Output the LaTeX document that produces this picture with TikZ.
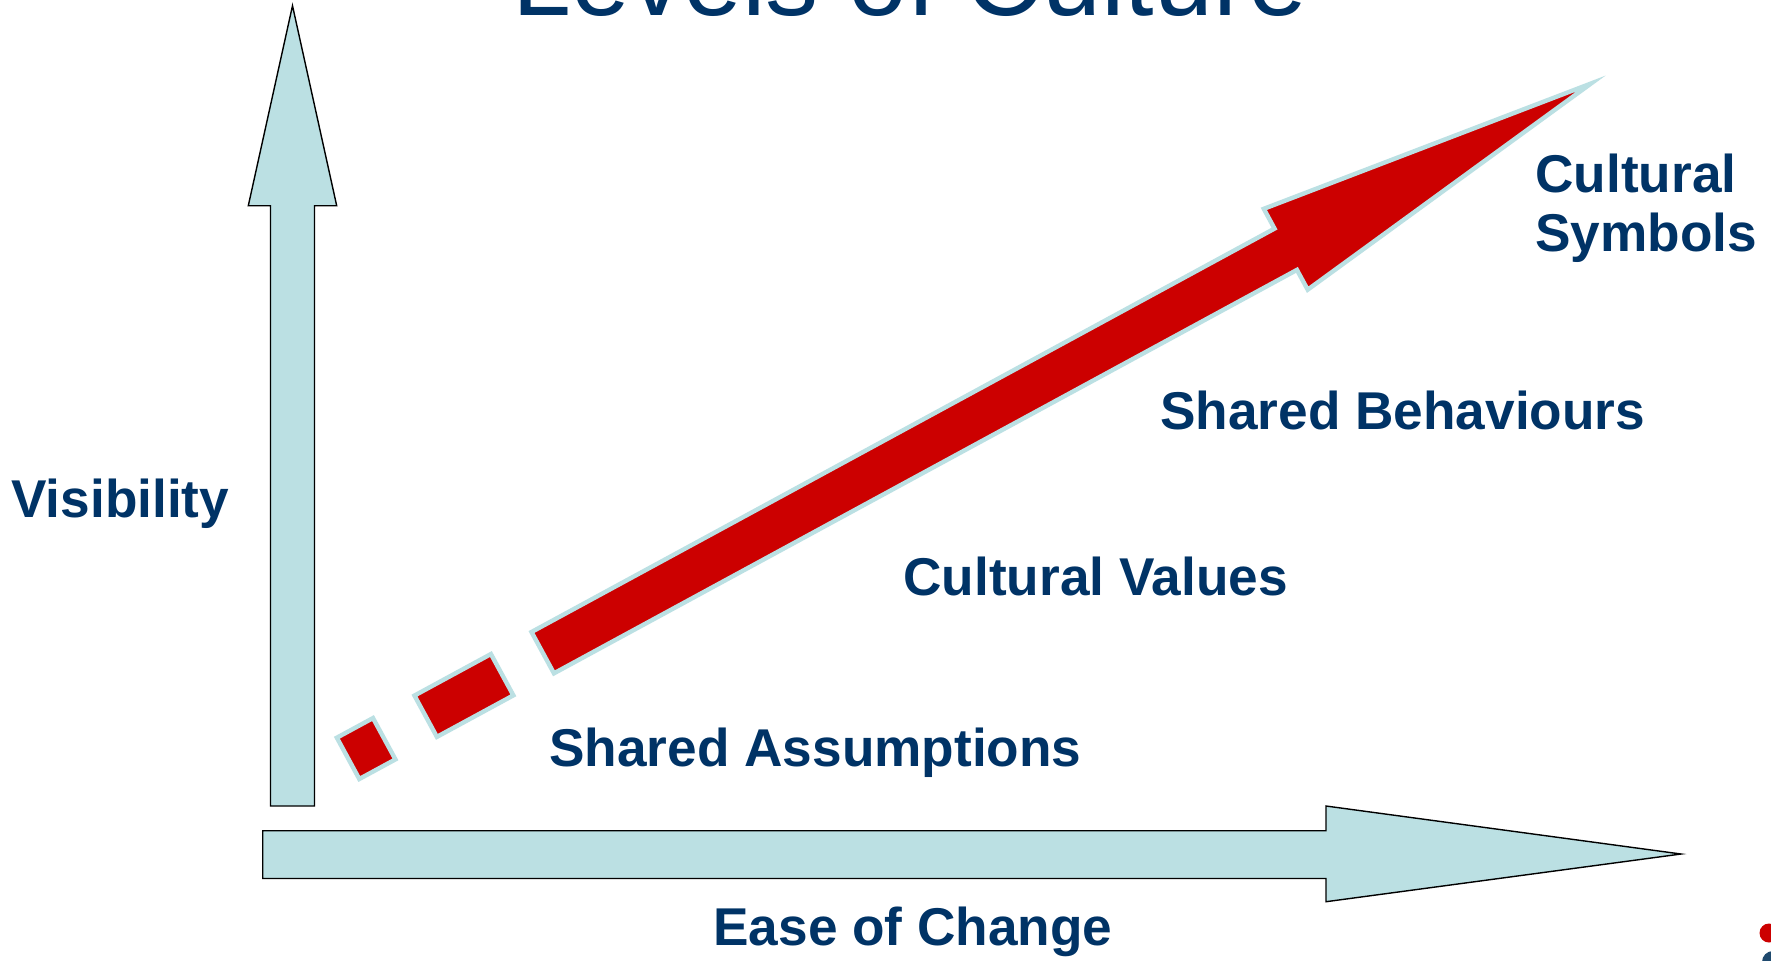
\documentclass[tikz,border=0pt]{standalone}
\usepackage{fontspec}
\setmainfont{Liberation Sans}
\begin{document}
\begin{tikzpicture}[x=0.5pt,y=-0.5pt,
  axisarrow/.style={draw=black,line width=0.7pt,fill=axisblue,line join=miter},
  redpart/.style={draw=axisblue,line width=2.2pt,fill=arrowred,line join=miter},
  lbl/.style={inner sep=0pt,anchor=base west,text=labelblue,font=\fontsize{26.6pt}{31pt}\selectfont\bfseries},
  ttl/.style={inner sep=0pt,anchor=base west,text=labelblue,font=\fontsize{53pt}{60pt}\selectfont}]
\definecolor{axisblue}{RGB}{187,224,227}
\definecolor{arrowred}{RGB}{204,0,0}
\definecolor{labelblue}{RGB}{0,51,102}
\definecolor{logoblue}{RGB}{31,74,110}
\clip (0,0) rectangle (1771,960);
\fill[white] (0,0) rectangle (1771,960);

% title, cut by the top edge
\node[ttl] (title) at (512,15) {Levels of Culture};

% vertical axis: visibility
\draw[axisarrow] (270.5,806) -- (270.5,205.7) -- (248.3,205.7) -- (292.5,5.7)
  -- (336.7,205.7) -- (314.5,205.7) -- (314.5,806) -- cycle;
% horizontal axis: ease of change
\draw[axisarrow] (262.7,830.7) -- (1326,830.7) -- (1326,806) -- (1681,854)
  -- (1326,901.7) -- (1326,878.5) -- (262.7,878.5) -- cycle;

% rising red arrow with two leading dashes
\begin{scope}[shift={(540.8,653.7)},rotate=28.5]
  \draw[redpart] (-219.3,-23.5) rectangle (-178.2,23.5);
  \draw[redpart] (-131,-23.5) rectangle (-44,23.5);
  \draw[redpart] (2.2,-23.5) -- (847.7,-23.5) -- (847.7,-46) -- (1195,0)
    -- (847.7,46) -- (847.7,23.5) -- (2.2,23.5) -- cycle;
\end{scope}

% labels
\node[lbl] (vis) at (11,517) {Visibility};
\node[lbl] (ease) at (713,945) {Ease of Change};
\node[lbl] (assump) at (549,766) {Shared Assumptions};
\node[lbl] (values) at (903,595) {Cultural Values};
\node[lbl] (behav) at (1160,429) {Shared Behaviours};
\node[lbl] (sym1) at (1535,192.7) {Cultural};
\node[lbl] (sym2) at (1535,251.7) {Symbols};

% corner logo fragments
\fill[arrowred] (1769,933) circle (9.5);
\fill[logoblue] (1773,962) circle (11);
\end{tikzpicture}
\end{document}
